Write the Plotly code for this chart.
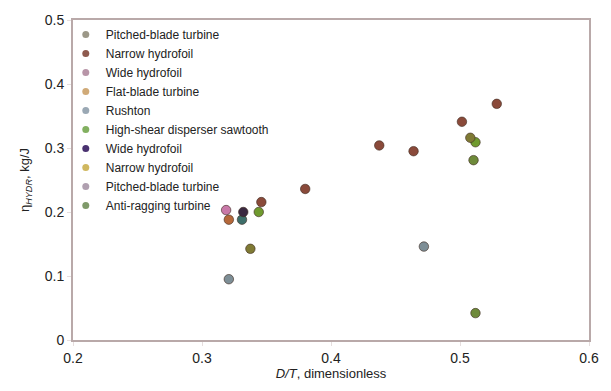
import plotly.graph_objects as go

# Series names (legend order)
series_names = [
    "Pitched-blade turbine", "Narrow hydrofoil", "Wide hydrofoil", "Flat-blade turbine",
    "Rushton", "High-shear disperser sawtooth", "Wide hydrofoil", "Narrow hydrofoil",
    "Pitched-blade turbine", "Anti-ragging turbine",
]
# D/T values per series
dt_values = [
    [0.331],
    [0.5285, 0.5015, 0.4374, 0.464, 0.380, 0.346],
    [0.3187],
    [0.3208],
    [0.472, 0.3208],
    [0.512, 0.344],
    [0.332],
    [0.3375, 0.508],
    [],
    [0.5105, 0.512],
]
# eta_HYDR values per series (kg/J)
eta_values = [
    [0.188],
    [0.369, 0.341, 0.304, 0.295, 0.236, 0.2155],
    [0.203],
    [0.188],
    [0.146, 0.095],
    [0.309, 0.200],
    [0.200],
    [0.1425, 0.316],
    [],
    [0.281, 0.042],
]
legend_colors = ["#9c9888", "#8e5a4e", "#b895a8", "#d0aa78", "#9aa8b4",
                 "#82b060", "#4a3270", "#d0b860", "#b0a0b0", "#7f9a6a"]
point_colors = ["#3d6e6a", "#8a4a3a", "#c878a8", "#b5683a", "#7d8e96",
                "#6f9a2e", "#3a2840", "#7f7a34", "#a898a8", "#6e8a3a"]

x_ticks = [0.2, 0.3, 0.4, 0.5, 0.6]
y_ticks = [0, 0.1, 0.2, 0.3, 0.4, 0.5]
y_tick_labels = ["0", "0.1", "0.2", "0.3", "0.4", "0.5"]

fig = go.Figure()
for name, xs, ys, lc, pc in zip(series_names, dt_values, eta_values, legend_colors, point_colors):
    fig.add_trace(go.Scatter(
        x=xs, y=ys, mode="markers", name=name, showlegend=False,
        marker=dict(size=9.5, color=pc, line=dict(width=1, color="rgba(60,40,30,0.6)")),
    ))
for name, lc in zip(series_names, legend_colors):
    fig.add_trace(go.Scatter(
        x=[None], y=[None], mode="markers", name=name, showlegend=True,
        marker=dict(size=7, color=lc),
    ))

axis_common = dict(
    showgrid=False, zeroline=False, showline=True, linecolor="#b9a9a9", linewidth=2,
    mirror=True, ticks="outside", ticklen=4, tickcolor="#e6dede",
    tickfont=dict(family="Liberation Sans, Arial, sans-serif", size=14, color="#222"),
)
fig.update_layout(
    width=611, height=391,
    margin=dict(l=73, r=21, t=15, b=45),
    paper_bgcolor="white", plot_bgcolor="white",
    font=dict(family="Liberation Sans, Arial, sans-serif", color="#222"),
    xaxis=dict(range=[0.2, 0.6], tickvals=x_ticks, ticktext=[str(v) for v in x_ticks],
               title=dict(text="<i>D/T</i>, dimensionless", font=dict(size=13), standoff=4),
               **axis_common),
    yaxis=dict(range=[0, 0.5], tickvals=y_ticks, ticktext=y_tick_labels,
               title=dict(text="η<sub><i>HYDR</i></sub>, kg/J", font=dict(size=13), standoff=12),
               **axis_common),
    legend=dict(x=-0.014, y=1.0, xanchor="left", yanchor="top", bgcolor="rgba(0,0,0,0)",
                font=dict(family="Liberation Sans, Arial, sans-serif", size=12, color="#222"),
                tracegroupgap=0, itemwidth=30, maxheight=380),
    showlegend=True,
)
fig.write_html("out.html")
